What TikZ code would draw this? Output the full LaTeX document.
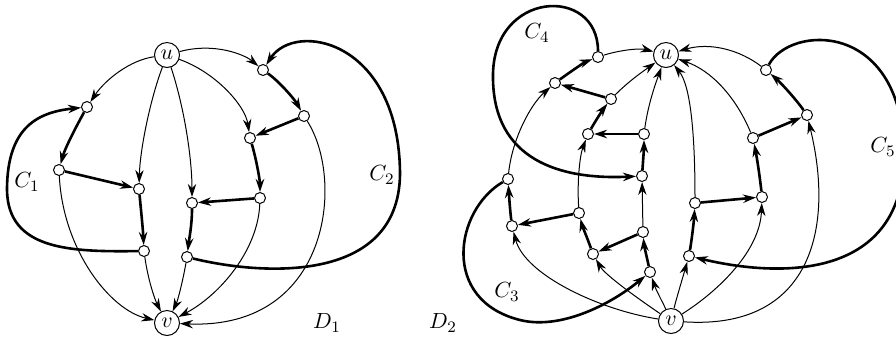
\documentclass[tikz,border=0pt]{standalone}
\usepackage{tikz}
\usetikzlibrary{arrows.meta}

\tikzset{
  vtx/.style={circle,draw,fill=white,inner sep=0pt,minimum size=5.5pt,line width=0.5pt},
  endvtx/.style={circle,draw,fill=white,inner sep=0pt,minimum size=12.5pt,line width=0.5pt,font=\fontsize{11}{13}\selectfont},
  thinarc/.style={->,line width=0.5pt},
  thickarc/.style={->,line width=1.3pt},
  lbl/.style={font=\fontsize{11}{13}\selectfont},
}

\begin{document}
\begin{tikzpicture}[x=0.5pt, y=-0.5pt, >={Stealth[length=6.5pt,width=4.2pt]}]
    \useasboundingbox (0,0) rectangle (896,345);

    % D1: ends
    \node[endvtx] at (167,55) (u) {$u$};
    \node[endvtx] at (167,323) (v) {$v$};

    % D1: inner vertices
    \node[vtx] at (87,107) (a1) {};
    \node[vtx] at (59,170) (a2) {};
    \node[vtx] at (139,189) (b1) {};
    \node[vtx] at (144,251) (b2) {};
    \node[vtx] at (192,203) (c1) {};
    \node[vtx] at (187,257) (c2) {};
    \node[vtx] at (250,138) (d1) {};
    \node[vtx] at (260,198) (d2) {};
    \node[vtx] at (263,70) (e1) {};
    \node[vtx] at (304,116) (e2) {};

    % D1: paths u -> v
    \draw[thinarc] (u) .. controls (130,60) and (105,80) .. (a1);
    \draw[thickarc] (a1) .. controls (77,125) and (65,148) .. (a2);
    \draw[thinarc] (a2) .. controls (63,250) and (110,310) .. (v);

    \draw[thinarc] (u) .. controls (150,100) and (140,150) .. (b1);
    \draw[thickarc] (b1) .. controls (141,210) and (143,230) .. (b2);
    \draw[thinarc] (b2) .. controls (148,280) and (155,300) .. (v);

    \draw[thinarc] (u) .. controls (185,110) and (192,160) .. (c1);
    \draw[thickarc] (c1) .. controls (192,225) and (189,240) .. (c2);
    \draw[thinarc] (c2) .. controls (183,280) and (178,300) .. (v);

    \draw[thinarc] (u) .. controls (215,72) and (245,105) .. (d1);
    \draw[thickarc] (d1) .. controls (256,158) and (260,180) .. (d2);
    \draw[thinarc] (d2) .. controls (258,250) and (220,295) .. (v);

    \draw[thinarc] (u) .. controls (215,42) and (245,55) .. (e1);
    \draw[thickarc] (e1) .. controls (280,82) and (295,100) .. (e2);
    \draw[thinarc] (e2) .. controls (345,180) and (330,330) .. (v);

    % D1: cross arcs
    \draw[thickarc] (a2) -- (b1);
    \draw[thickarc] (d2) -- (c1);
    \draw[thickarc] (e2) -- (d1);

    % D1: cycles
    \draw[thickarc] (b2) .. controls (70,252) and (8,250) .. (7,190)
        .. controls (7,125) and (40,112) .. (a1);
    \draw[thickarc] (c2) .. controls (260,275) and (398,285) .. (400,175)
        .. controls (400,40) and (295,20) .. (e1);

    \node[lbl] at (27,182) (lc1) {$C_1$};
    \node[lbl] at (382,175) (lc2) {$C_2$};
    \node[lbl] at (327,323) (ld1) {$D_1$};

    % D2: ends
    \node[endvtx] at (666,55) (u2) {$u$};
    \node[endvtx] at (671,321) (v2) {$v$};

    % D2: inner vertices
    \node[vtx] at (598,57) (p1) {};
    \node[vtx] at (555,83) (p2) {};
    \node[vtx] at (611,99) (p3) {};
    \node[vtx] at (588,134) (p4) {};
    \node[vtx] at (644,134) (p5) {};
    \node[vtx] at (642,176) (p6) {};
    \node[vtx] at (508,179) (q1) {};
    \node[vtx] at (512,226) (q2) {};
    \node[vtx] at (579,213) (q3) {};
    \node[vtx] at (593,254) (q4) {};
    \node[vtx] at (643,232) (q5) {};
    \node[vtx] at (650,272) (q6) {};
    \node[vtx] at (695,203) (r1) {};
    \node[vtx] at (762,197) (r2) {};
    \node[vtx] at (689,256) (r3) {};
    \node[vtx] at (766,70) (s1) {};
    \node[vtx] at (807,115) (s2) {};
    \node[vtx] at (753,138) (s3) {};

    % D2: paths v -> u
    \draw[thinarc] (v2) .. controls (600,310) and (525,275) .. (q2);
    \draw[thickarc] (q2) .. controls (510,210) and (509,195) .. (q1);
    \draw[thinarc] (q1) .. controls (512,140) and (530,105) .. (p2);
    \draw[thickarc] (p2) .. controls (570,72) and (585,62) .. (p1);
    \draw[thinarc] (p1) .. controls (620,50) and (640,48) .. (u2);

    \draw[thinarc] (v2) .. controls (640,300) and (605,275) .. (q4);
    \draw[thickarc] (q4) .. controls (588,240) and (582,225) .. (q3);
    \draw[thinarc] (q3) .. controls (577,180) and (580,155) .. (p4);
    \draw[thickarc] (p4) .. controls (596,120) and (604,108) .. (p3);
    \draw[thinarc] (p3) .. controls (630,80) and (645,70) .. (u2);

    \draw[thinarc] (v2) .. controls (664,305) and (656,290) .. (q6);
    \draw[thickarc] (q6) .. controls (647,258) and (644,245) .. (q5);
    \draw[thinarc] (q5) -- (p6);
    \draw[thickarc] (p6) .. controls (643,162) and (644,148) .. (p5);
    \draw[thinarc] (p5) .. controls (648,105) and (655,85) .. (u2);

    \draw[thinarc] (v2) .. controls (676,300) and (682,280) .. (r3);
    \draw[thickarc] (r3) .. controls (692,238) and (694,220) .. (r1);
    \draw[thinarc] (r1) .. controls (695,130) and (690,85) .. (u2);

    \draw[thinarc] (v2) .. controls (720,290) and (760,250) .. (r2);
    \draw[thickarc] (r2) .. controls (760,178) and (757,158) .. (s3);
    \draw[thinarc] (s3) .. controls (735,95) and (710,70) .. (u2);

    \draw[thinarc] (v2) .. controls (810,330) and (835,230) .. (s2);
    \draw[thickarc] (s2) .. controls (795,98) and (780,82) .. (s1);
    \draw[thinarc] (s1) .. controls (740,50) and (710,42) .. (u2);

    % D2: cross arcs
    \draw[thickarc] (q3) -- (q2);
    \draw[thickarc] (q5) -- (q4);
    \draw[thickarc] (p3) -- (p2);
    \draw[thickarc] (p5) -- (p4);
    \draw[thickarc] (r1) -- (r2);
    \draw[thickarc] (s3) -- (s2);

    % D2: cycles
    \draw[thickarc] (q1) .. controls (455,210) and (440,300) .. (520,320)
        .. controls (560,330) and (610,305) .. (q6);
    \draw[thickarc] (p1) .. controls (598,-15) and (492,-10) .. (493,77)
        .. controls (493,160) and (560,180) .. (p6);
    \draw[thickarc] (s1) .. controls (790,25) and (900,20) .. (904,150)
        .. controls (906,275) and (790,280) .. (r3);

    \node[lbl] at (507,292) (lc3) {$C_3$};
    \node[lbl] at (537,33) (lc4) {$C_4$};
    \node[lbl] at (883,147) (lc5) {$C_5$};
    \node[lbl] at (443,323) (ld2) {$D_2$};

\end{tikzpicture}
\end{document}
